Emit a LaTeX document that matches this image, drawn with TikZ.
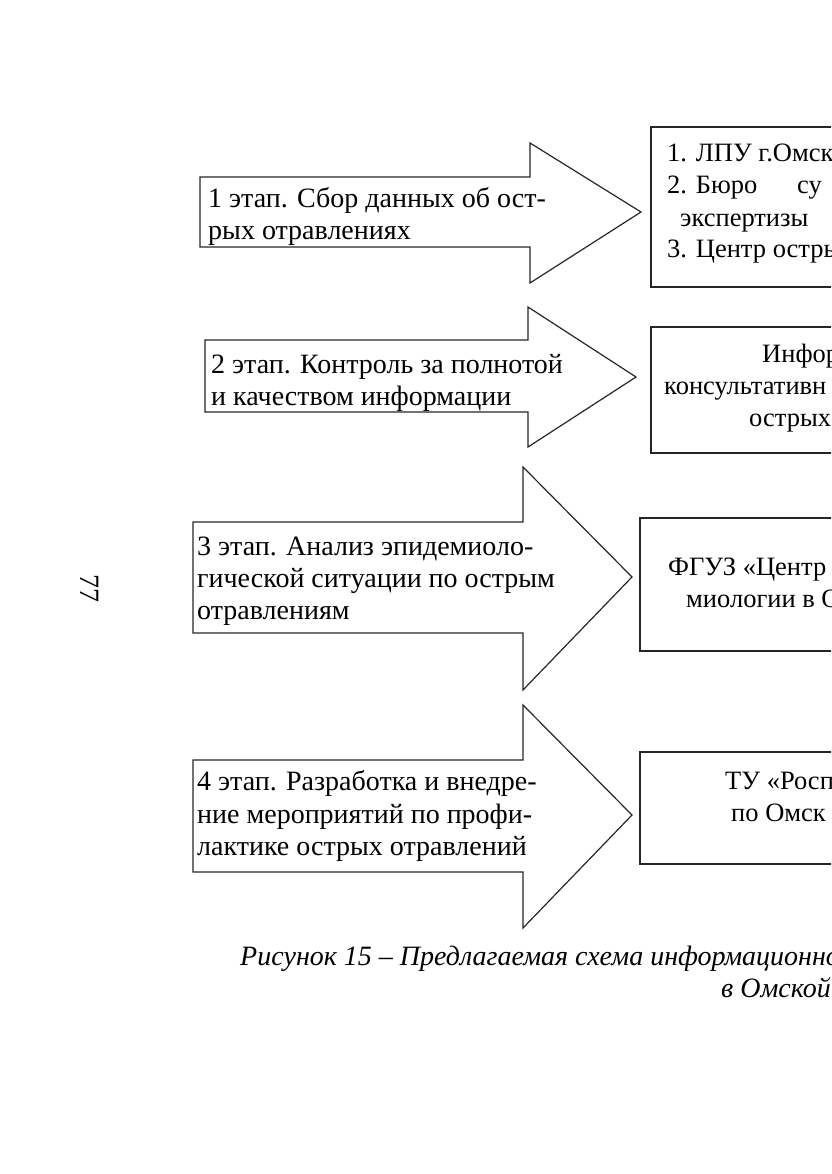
\documentclass[tikz,border=0pt]{standalone}
\usepackage{fontspec}
\setmainfont{Liberation Serif}
\usetikzlibrary{calc}

\tikzset{
	stagetext/.style={anchor=base west, inner sep=0pt, font=\fontsize{28}{32}\selectfont},
	boxtext/.style={anchor=base west, inner sep=0pt, font=\fontsize{26.5}{32}\selectfont},
	captext/.style={anchor=base west, inner sep=0pt, font=\fontsize{28}{32}\selectfont\itshape},
	outline/.style={draw=black!85, line width=1.2pt},
}

\begin{document}
\begin{tikzpicture}[x=1pt, y=-1pt]
	\useasboundingbox (0,0) rectangle (831,1174);
	\clip (0,0) rectangle (831,1174);

	% page number
	\node [rotate=-90, inner sep=0pt, font=\fontsize{28}{32}\selectfont] (pagenum) at (90,588) {77};

	% stage arrows
	\draw [outline] (200,177) -- (530,177) -- (530,143) -- (641,212) -- (530,283) -- (530,247) -- (200,247) -- cycle;
	\draw [outline] (205,340) -- (528,340) -- (528,307) -- (636,377) -- (528,447) -- (528,412) -- (205,412) -- cycle;
	\draw [outline] (193,522) -- (523,522) -- (523,467) -- (632,577) -- (523,690) -- (523,633) -- (193,633) -- cycle;
	\draw [outline] (193,760) -- (523,760) -- (523,705) -- (632,815) -- (523,928) -- (523,872) -- (193,872) -- cycle;

	\node [stagetext] (s1a) at (208,208) {1 этап. Сбор данных об ост-};
	\node [stagetext] (s1b) at (208,240) {рых отравлениях};
	\node [stagetext] (s2a) at (211,373) {2 этап. Контроль за полнотой};
	\node [stagetext] (s2b) at (211,405) {и качеством информации};
	\node [stagetext] (s3a) at (197,555) {3 этап. Анализ эпидемиоло-};
	\node [stagetext] (s3b) at (197,587) {гической ситуации по острым};
	\node [stagetext] (s3c) at (197,619) {отравлениям};
	\node [stagetext] (s4a) at (197,790) {4 этап. Разработка и внедре-};
	\node [stagetext] (s4b) at (197,823) {ние мероприятий по профи-};
	\node [stagetext] (s4c) at (197,855) {лактике острых отравлений};

	% organisation boxes
	\draw [outline] (651,127) rectangle (860,287);
	\draw [outline] (651,327) rectangle (860,453);
	\draw [outline] (640,518) rectangle (860,651);
	\draw [outline] (640,752) rectangle (860,864);

	\node [boxtext] (b1a) at (667,162) {1. ЛПУ г.Омск};
	\node [boxtext] (b1b) at (667,194) {2. Бюро};
	\node [boxtext] (b1c) at (797,194) {су};
	\node [boxtext] (b1d) at (680,226) {экспертизы};
	\node [boxtext] (b1e) at (667,258) {3. Центр остры};
	\node [boxtext] (b2a) at (762,362) {Инфор};
	\node [boxtext] (b2b) at (664,394) {консультативн};
	\node [boxtext] (b2c) at (749,426) {острых};
	\node [boxtext] (b3a) at (668,575) {ФГУЗ «Центр};
	\node [boxtext] (b3b) at (686,607) {миологии в О};
	\node [boxtext] (b4a) at (725,789) {ТУ «Росп};
	\node [boxtext] (b4b) at (731,821) {по Омск};

	% caption
	\node [captext] (cap1) at (240,965) {Рисунок 15 – Предлагаемая схема информационно};
	\node [captext] (cap2) at (721,997) {в Омской};
\end{tikzpicture}
\end{document}
